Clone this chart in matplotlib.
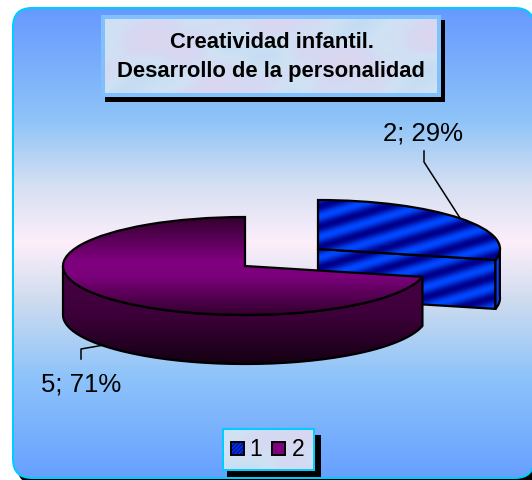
"""Exploded 3D-look pie chart, Excel style."""

import matplotlib
matplotlib.use("Agg")
import matplotlib.pyplot as plt
import numpy as np
from matplotlib.colors import LinearSegmentedColormap
from matplotlib.patches import FancyBboxPatch, PathPatch, Rectangle, Wedge
from matplotlib.path import Path
from matplotlib.transforms import Affine2D

TITLE = "Creatividad infantil.\nDesarrollo de la personalidad"
categories = ["1", "2"]
values = [2, 5]
slice_labels = ["2; 29%", "5; 71%"]

W, H = 532, 481
RX, RY, DEPTH = 182, 49, 49

plt.rcParams["font.family"] = ["Liberation Sans", "DejaVu Sans"]

fig = plt.figure(figsize=(W / 100, H / 100), dpi=100)
ax = fig.add_axes([0, 0, 1, 1])
ax.set_xlim(0, W)
ax.set_ylim(H, 0)
ax.axis("off")


def grad_image(data, extent, cmap, clip, zorder, vmin=0, vmax=1):
    im = ax.imshow(data, extent=extent, cmap=cmap, vmin=vmin, vmax=vmax,
                   aspect="auto", zorder=zorder, interpolation="bilinear")
    im.set_clip_path(clip)
    return im


def rounded(x0, y0, x1, y1, r, **kw):
    p = FancyBboxPatch((x0 + r, y0 + r), x1 - x0 - 2 * r, y1 - y0 - 2 * r,
                       boxstyle=f"round,pad={r},rounding_size={r}", **kw)
    ax.add_patch(p)
    return p


def rim(cx, cy, t0, t1, n=120):
    t = np.radians(np.linspace(t0, t1, n))
    return np.column_stack([cx + RX * np.cos(t), cy - RY * np.sin(t)])


def vertical(y0, y1, cmap, clip, zorder, x0=0, x1=W):
    g = np.linspace(0, 1, 256)[:, None]
    return grad_image(g, (x0, x1, y1, y0), cmap, clip, zorder)


def stripes(x0, x1, y0, y1, clip, zorder):
    xx, yy = np.meshgrid(np.arange(x0, x1, 1.0), np.arange(y0, y1, 1.0))
    g = 0.5 + 0.5 * np.sin(2 * np.pi * (yy + 0.30 * xx) / 20.5)
    return grad_image(g, (x0, x1, y1, y0), stripe_cmap, clip, zorder)


def mottled(x0, y0, x1, y1, clip, zorder):
    # pale marble fill of the title and legend boxes
    xx, yy = np.meshgrid(np.arange(x0, x1, 1.0), np.arange(y0, y1, 1.0))
    g = (np.sin(xx / 23 + np.sin(yy / 17) * 1.6) + np.sin(yy / 11 + xx / 41) * 0.7
         + np.sin((xx + yy) / 9) * 0.3)
    g = (g + 2) / 4
    return grad_image(g, (x0, x1, y1, y0), marble_cmap, clip, zorder)


bg_cmap = LinearSegmentedColormap.from_list(
    "bg", [(0, "#6699ff"), (0.24, "#8fc4f8"), (0.38, "#d6e0f2"), (0.5, "#fdeefa"),
           (0.62, "#cfdcee"), (0.78, "#8fc4fa"), (1, "#66a0ff")])
purple_top = LinearSegmentedColormap.from_list(
    "ptop", [(0, "#33002e"), (0.45, "#800080"), (0.6, "#7c007c"), (1, "#33002e")])
purple_side = LinearSegmentedColormap.from_list(
    "pside", [(0, "#4a0046"), (0.5, "#3d003a"), (1, "#140012")])
stripe_cmap = LinearSegmentedColormap.from_list("st", ["#00008a", "#0048ff"])
marble_cmap = LinearSegmentedColormap.from_list(
    "marble", ["#c4dcf2", "#cfe2f4", "#d6d8f2", "#dcd6f0"])

# chart area
rounded(17, 13, 540, 486, 20, fc="black", ec="none", zorder=1)
frame = rounded(12, 8, 535, 480, 20, fc="#00ccff", ec="none", zorder=2)
inner = rounded(14, 10, 533, 478, 18, fc="none", ec="none", zorder=2)
vertical(8, 480, bg_cmap, inner, 3)

# slices
total = sum(values)
sweep = [360 * v / total for v in values]
t1_start, t1_end = 90 - sweep[0], 90
t2_start, t2_end = 90, 90 + sweep[1]
cx1, cy1 = 318, 250
cx2, cy2 = 245, 267

# blue: cut face and a sliver of outer wall
a = rim(cx1, cy1, t1_start, t1_start, 1)[0]
face = np.array([[cx1, cy1], a, a + [0, DEPTH], [cx1, cy1 + DEPTH]])
p = PathPatch(Path(np.vstack([face, face[:1]])), fc="none", ec="none", zorder=4)
ax.add_patch(p)
stripes(cx1, a[0] + 1, cy1, cy1 + DEPTH + 14, p, 4)
ax.add_patch(PathPatch(Path(np.vstack([face, face[:1]])), fc="none", ec="black", lw=1.6, zorder=5))

wall = rim(cx1, cy1, t1_start, 2, 30)
wall_poly = np.vstack([wall, wall[::-1] + [0, DEPTH], wall[:1]])
ax.add_patch(PathPatch(Path(wall_poly), fc="#0a3cf0", ec="black", lw=1.6, zorder=5))

blue_tf = Affine2D().scale(RX, -RY).translate(cx1, cy1) + ax.transData
w1 = Wedge((0, 0), 1, t1_start, t1_end, fc="none", ec="none", transform=blue_tf, zorder=6)
ax.add_patch(w1)
stripes(cx1, cx1 + RX + 1, cy1 - RY - 1, cy1 + 14, w1, 6)
ax.add_patch(Wedge((0, 0), 1, t1_start, t1_end, fc="none", ec="black", lw=1.6,
                   transform=blue_tf, zorder=7))

# purple: outer wall then top
wall = rim(cx2, cy2, 180, t2_end)
wall_poly = np.vstack([wall, wall[::-1] + [0, DEPTH], wall[:1]])
p = PathPatch(Path(wall_poly), fc="none", ec="none", zorder=8)
ax.add_patch(p)
vertical(cy2, cy2 + RY + DEPTH, purple_side, p, 8)
ax.add_patch(PathPatch(Path(wall_poly), fc="none", ec="black", lw=1.6, zorder=9))

purple_tf = Affine2D().scale(RX, -RY).translate(cx2, cy2) + ax.transData
w2 = Wedge((0, 0), 1, t2_start, t2_end, fc="none", ec="none", transform=purple_tf, zorder=10)
ax.add_patch(w2)
vertical(cy2 - RY, cy2 + RY, purple_top, w2, 10)
ax.add_patch(Wedge((0, 0), 1, t2_start, t2_end, fc="none", ec="black", lw=1.6,
                   transform=purple_tf, zorder=11))

# data labels + leaders
ax.plot([424, 424, 460], [152, 163, 219], color="black", lw=1.1, zorder=12)
ax.plot([81, 81, 104], [360, 350, 346], color="black", lw=1.1, zorder=12)
ax.text(423, 134, slice_labels[0], ha="center", va="center", fontsize=18.5, color="black", zorder=12)
ax.text(81, 385, slice_labels[1], ha="center", va="center", fontsize=18.5, color="black", zorder=12)

# title box
ax.add_patch(Rectangle((105, 21), 340, 82, fc="black", ec="none", zorder=13))
ax.add_patch(Rectangle((101, 16), 340, 82, fc="#80c0ff", ec="none", zorder=14))
t_box = Rectangle((105, 20), 332, 74, fc="none", ec="none", zorder=15)
ax.add_patch(t_box)
mottled(105, 20, 437, 94, t_box, 15)
ax.text(272, 42, TITLE.split("\n")[0], ha="center", va="center", fontsize=15.8,
        fontweight="bold", color="black", zorder=16)
ax.text(271, 72, TITLE.split("\n")[1], ha="center", va="center", fontsize=15.8,
        fontweight="bold", color="black", zorder=16)

# legend
ax.add_patch(Rectangle((227, 436), 94, 42, fc="black", ec="none", zorder=13))
ax.add_patch(Rectangle((222, 429), 93, 43, fc="#00ccff", ec="none", zorder=14))
l_box = Rectangle((224, 431), 89, 39, fc="none", ec="none", zorder=15)
ax.add_patch(l_box)
mottled(224, 431, 313, 470, l_box, 15)
key1 = Rectangle((231, 443), 13, 13, fc="none", ec="none", zorder=16)
ax.add_patch(key1)
xx, yy = np.meshgrid(np.arange(231, 244, 0.5), np.arange(443, 456, 0.5))
grad_image(0.5 + 0.5 * np.sin(2 * np.pi * (yy + xx) / 4), (231, 244, 456, 443),
           stripe_cmap, key1, 16)
ax.add_patch(Rectangle((231, 443), 13, 13, fc="none", ec="black", lw=1.4, zorder=17))
ax.add_patch(Rectangle((272, 443), 13, 13, fc="#800080", ec="black", lw=1.4, zorder=17))
ax.text(256, 450, categories[0], ha="center", va="center", fontsize=16.5, zorder=17)
ax.text(298, 450, categories[1], ha="center", va="center", fontsize=16.5, zorder=17)

ax.set_xlim(0, W)
ax.set_ylim(H, 0)
fig.savefig("out.png", dpi=100, facecolor="white")
